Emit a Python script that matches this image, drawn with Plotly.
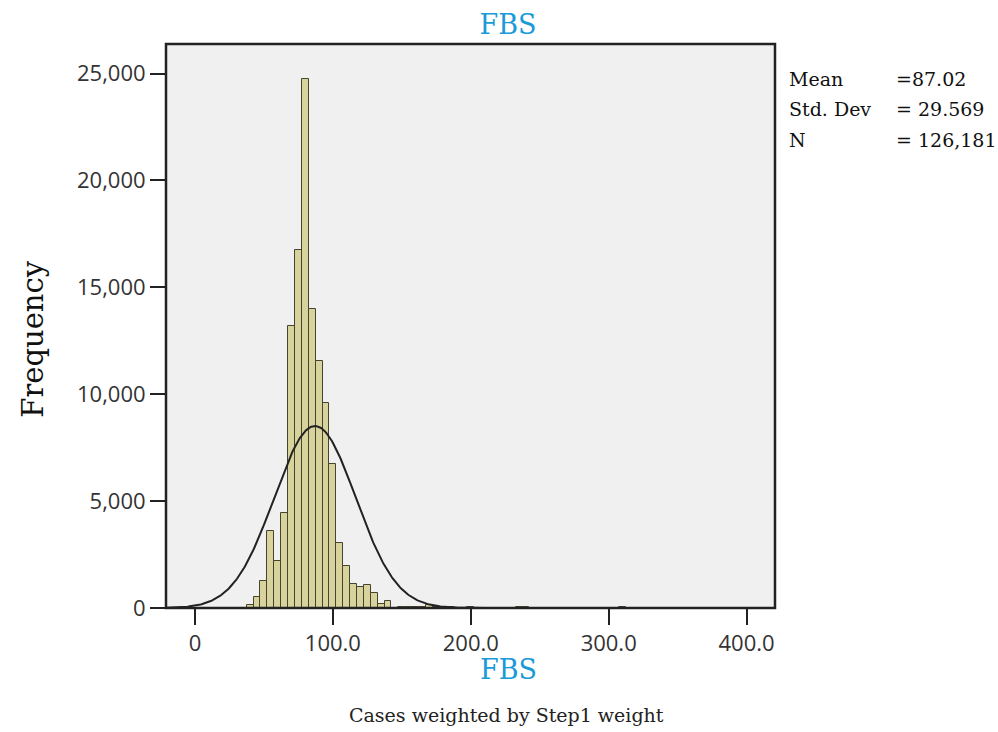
import numpy as np
import plotly.graph_objects as go

# ---- data ----
bin_centers = [40, 45, 50, 55, 60, 65, 70, 75, 80, 85, 90, 95, 100, 105, 110, 115,
               120, 125, 130, 135, 140, 150, 155, 160, 165, 170, 175, 185, 200, 235, 240, 310]
frequencies = [160, 505, 1285, 3590, 2220, 4450, 13170, 16760, 24744, 13980, 11565, 9590,
               6750, 3045, 1955, 1130, 990, 1065, 710, 210, 318, 30, 40, 40, 60, 130, 30,
               40, 40, 30, 30, 40]
bin_width = 5
stat_mean = 87.02
stat_sd = 29.569
stat_n = 126181
x_tick_vals = [0, 100, 200, 300, 400]
x_tick_text = ["0", "100.0", "200.0", "300.0", "400.0"]
y_tick_vals = [0, 5000, 10000, 15000, 20000, 25000]
y_tick_text = ["0", "5,000", "10,000", "15,000", "20,000", "25,000"]
stat_labels = ["Mean", "Std. Dev", "N"]
stat_values = ["=87.02", "= 29.569", "= 126,181"]

x_range = [-21.0, 420.6]
y_range = [0, 26380]

# normal curve defined by the displayed statistics
curve_x = np.linspace(x_range[0], x_range[1], 600)
curve_y = stat_n * bin_width / (stat_sd * np.sqrt(2 * np.pi)) * np.exp(-0.5 * ((curve_x - stat_mean) / stat_sd) ** 2)

SERIF = "DejaVu Serif"
SANS = "Open Sans"
BLUE = "#1b9ad8"

fig = go.Figure()
fig.add_trace(go.Bar(
    x=bin_centers, y=frequencies, width=bin_width,
    marker=dict(color="#d8d29c", line=dict(color="#45452f", width=1)),
    hoverinfo="x+y", showlegend=False,
))
fig.add_trace(go.Scatter(
    x=curve_x, y=curve_y, mode="lines",
    line=dict(color="#222222", width=2), showlegend=False, hoverinfo="skip",
))

fig.update_layout(
    width=998, height=732,
    margin=dict(l=166, r=223, t=44, b=123.5),
    paper_bgcolor="white", plot_bgcolor="#f0f0f0",
    bargap=0,
    title=dict(text="FBS", x=0.509, xref="container", xanchor="center",
               y=0.967, yref="container", yanchor="middle",
               font=dict(family=SERIF, size=27, color=BLUE)),
    xaxis=dict(range=x_range, tickvals=x_tick_vals, ticktext=x_tick_text,
               showgrid=False, zeroline=False, showline=False,
               ticks="outside", ticklen=16, tickwidth=2, tickcolor="#222222",
               tickfont=dict(family=SANS, size=22, color="#333333")),
    yaxis=dict(range=y_range, tickvals=y_tick_vals, ticktext=y_tick_text,
               showgrid=False, zeroline=False, showline=False,
               ticks="outside", ticklen=15, tickwidth=2, tickcolor="#222222",
               tickfont=dict(family=SANS, size=22, color="#333333")),
)

# frame around the plot area
fig.add_shape(type="rect", xref="paper", yref="paper", x0=0, x1=1, y0=0, y1=1,
              line=dict(color="#222222", width=2.5), fillcolor="rgba(0,0,0,0)", layer="above")

plot_w = 998 - 166 - 223
plot_h = 732 - 44 - 123.5

def px(xpix):
    return (xpix - 166) / plot_w

def py(ypix):
    return (732 - 123.5 - ypix) / plot_h

# axis titles and caption
fig.add_annotation(text="FBS", x=px(508), y=py(670), xref="paper", yref="paper",
                   showarrow=False, xanchor="center", yanchor="middle",
                   font=dict(family=SERIF, size=27, color=BLUE))
fig.add_annotation(text="Cases weighted by Step1 weight", x=px(506), y=py(716),
                   xref="paper", yref="paper", showarrow=False,
                   xanchor="center", yanchor="middle",
                   font=dict(family=SERIF, size=19, color="#222222"))
fig.add_annotation(text="Frequency", x=px(33), y=py(340), xref="paper", yref="paper",
                   showarrow=False, textangle=-90, xanchor="center", yanchor="middle",
                   font=dict(family=SERIF, size=29, color="#111111"))

# statistics box
for i, (lab, val) in enumerate(zip(stat_labels, stat_values)):
    ypos = py(79 + i * 30.5)
    fig.add_annotation(text=lab, x=px(787), y=ypos, xref="paper", yref="paper",
                       showarrow=False, xanchor="left", yanchor="middle",
                       font=dict(family=SERIF, size=19, color="#111111"))
    fig.add_annotation(text=val, x=px(894), y=ypos, xref="paper", yref="paper",
                       showarrow=False, xanchor="left", yanchor="middle",
                       font=dict(family=SERIF, size=19, color="#111111"))

fig.write_html("out.html")
